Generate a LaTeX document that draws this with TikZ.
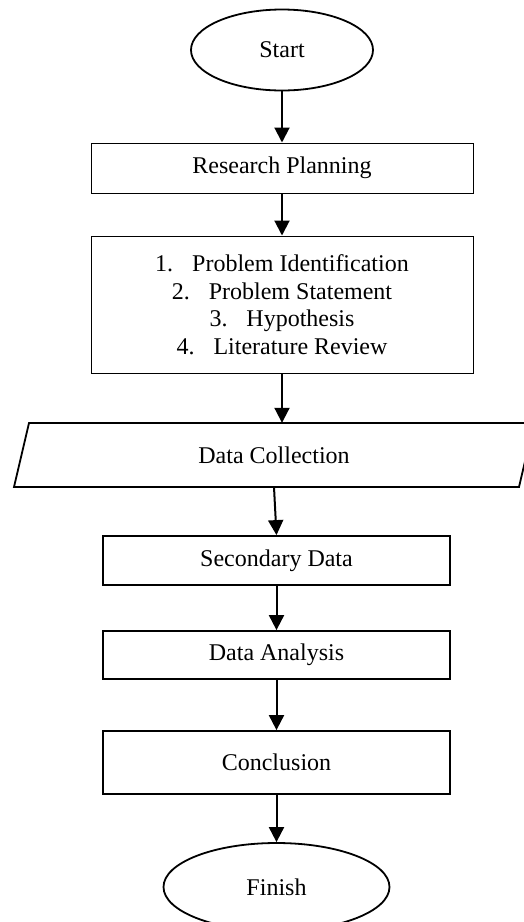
\documentclass[tikz,border=0pt]{standalone}
\usepackage{fontspec}
\setmainfont{Liberation Serif}
\usetikzlibrary{shapes.geometric,arrows.meta}
\begin{document}
\begin{tikzpicture}[x=1pt,y=-1pt,
  every node/.style={font=\fontsize{24}{27.5}\selectfont, inner sep=0pt, align=center},
  thinbox/.style={draw, line width=1pt, rectangle},
  thickbox/.style={draw, line width=1.8pt, rectangle},
  terminal/.style={draw, line width=1.8pt, ellipse},
  flow/.style={line width=2pt, -{Triangle[width=15pt,length=15pt]}}
]
\useasboundingbox (0,0) rectangle (523,922);
\node[terminal, minimum width=182pt, minimum height=81pt] (start) at (282,50) {Start};
\node[thinbox, minimum width=382pt, minimum height=50pt] (plan) at (282,168) {Research Planning};
\node[thinbox, minimum width=382pt, minimum height=137pt] (list) at (282,304.5)
  {1.\hspace{19pt}Problem Identification\\
   2.\hspace{19pt}Problem Statement\\
   3.\hspace{19pt}Hypothesis\\
   4.\hspace{19pt}Literature Review};
\node[minimum width=490pt, minimum height=64pt] (collect) at (274,455) {Data Collection};
\draw[line width=1.8pt, line join=miter] (29,423) -- (534,423) -- (519,487) -- (14,487) -- cycle;
\node[thickbox, minimum width=347pt, minimum height=49pt] (sec) at (276.5,560.5) {Secondary Data};
\node[thickbox, minimum width=347pt, minimum height=48pt] (ana) at (276.5,655) {Data Analysis};
\node[thickbox, minimum width=347pt, minimum height=63pt] (conc) at (276.5,762.5) {Conclusion};
\node[terminal, minimum width=226pt, minimum height=88pt] (finish) at (276.5,887) {Finish};
\draw[flow] (start.south) -- (plan.north);
\draw[flow] (plan.south) -- (list.north);
\draw[flow] (list.south) -- (list.south |- collect.north);
\draw[flow] (collect.south) -- (sec.north);
\draw[flow] (sec.south) -- (ana.north);
\draw[flow] (ana.south) -- (conc.north);
\draw[flow] (conc.south) -- (finish.north);
\end{tikzpicture}
\end{document}
